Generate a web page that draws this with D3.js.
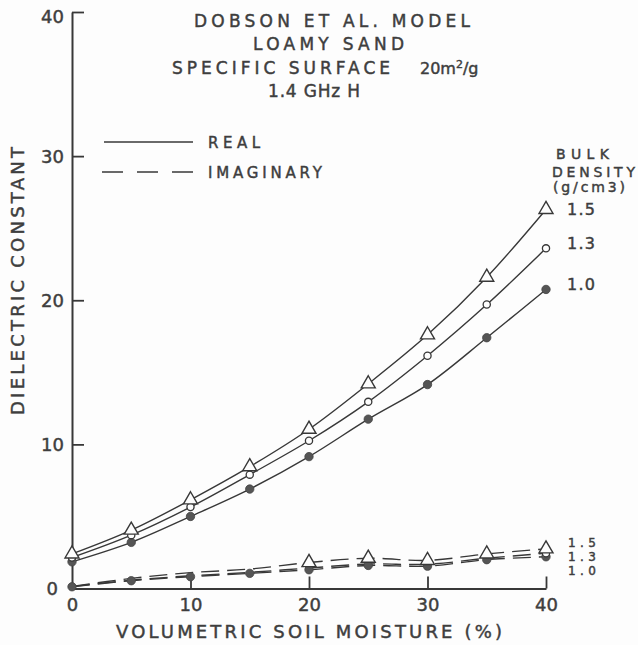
<!DOCTYPE html>
<html>
<head>
<meta charset="utf-8">
<script src="https://cdn.jsdelivr.net/npm/d3@7"></script>
<style>
  html, body { margin: 0; padding: 0; background: #fdfdfd; }
  svg { display: block; }
  text { font-family: "DejaVu Sans", "Liberation Sans", Arial, sans-serif; fill: #3e3e3e; }
</style>
</head>
<body>
<svg id="chart" width="638" height="645"></svg>
<script>
// Soil moisture (%) sampled every 5 %
const moisture = [0, 5, 10, 15, 20, 25, 30, 35, 40];

// Bulk density classes (g/cm3)
const densities = ["1.5", "1.3", "1.0"];

// Real part of the dielectric constant, per bulk density
const real15 = [2.4, 4.05, 6.15, 8.45, 11.05, 14.2, 17.6, 21.6, 26.3];
const real13 = [2.15, 3.7, 5.65, 7.9, 10.25, 12.95, 16.15, 19.7, 23.6];
const real10 = [1.85, 3.2, 5.0, 6.9, 9.15, 11.75, 14.15, 17.4, 20.75];

// Imaginary part of the dielectric constant, per bulk density
const imag15 = [0.15, 0.7, 1.1, 1.35, 1.8, 2.1, 1.95, 2.4, 2.75];
const imag13 = [0.13, 0.58, 0.88, 1.12, 1.42, 1.7, 1.68, 2.1, 2.45];
const imag10 = [0.12, 0.54, 0.82, 1.05, 1.3, 1.6, 1.55, 2.0, 2.2];

// Points where the imaginary-part markers are plotted
const imagMarks15 = [20, 25, 30, 35, 40];
const imagMarks13 = [40];
const imagMarks10 = [0, 5, 10, 15, 20, 25, 30, 35, 40];

const xTicks = [0, 10, 20, 30, 40];
const yTicks = [0, 10, 20, 30, 40];

const titleLines = ["DOBSON ET AL. MODEL", "LOAMY SAND", "SPECIFIC SURFACE", "1.4 GHz H"];
const xTitle = "VOLUMETRIC SOIL MOISTURE (%)";
const yTitle = "DIELECTRIC CONSTANT";
const legendLabels = ["REAL", "IMAGINARY"];
const densityTitle = ["BULK", "DENSITY", "(g/cm3)"];

const ink = "#383838";
const txt = "#3e3e3e";
const svg = d3.select("#chart");

const x = d3.scaleLinear().domain([0, 40]).range([72, 546]);
const y = d3.scaleLinear().domain([0, 40]).range([588.5, 12]);

function heavy(sel) {
  return sel.attr("stroke", txt).attr("stroke-width", 0.45);
}

// ---- axes ----
const yAxis = d3.axisLeft(y).tickValues(yTicks).tickSizeInner(-12).tickSizeOuter(0).tickPadding(8);
const gy = svg.append("g").attr("transform", `translate(${x(0)},0)`).call(yAxis);
const xAxis = d3.axisBottom(x).tickValues(xTicks).tickSizeInner(-12).tickSizeOuter(0).tickPadding(10);
const gx = svg.append("g").attr("transform", `translate(0,${y(0)})`).call(xAxis);

[gx, gy].forEach(g => {
  g.attr("font-family", null).attr("font-size", null);
  g.select(".domain").attr("stroke", ink).attr("stroke-width", 2);
  g.selectAll(".tick line").attr("stroke", ink).attr("stroke-width", 1.8);
  heavy(g.selectAll(".tick text").attr("fill", txt).style("font-size", "18px"));
});
gy.selectAll(".tick line").filter(d => d === 0).remove();
gx.selectAll(".tick line").filter(d => d === 0).remove();
gy.selectAll(".tick text").attr("dy", d => d === 40 ? "0.6em" : "0.36em");
gy.selectAll(".tick text").filter(d => d === 0).attr("x", -14);

// ---- curves ----
const line = d3.line()
  .x((d, i) => x(moisture[i]))
  .y(d => y(d))
  .curve(d3.curveCatmullRom.alpha(0.5));

const realSeries = [real15, real13, real10];
const imagSeries = [imag15, imag13, imag10];

svg.append("g").selectAll("path").data(realSeries).join("path")
  .attr("d", line).attr("fill", "none").attr("stroke", ink).attr("stroke-width", 1.4);

svg.append("g").selectAll("path").data(imagSeries).join("path")
  .attr("d", line).attr("fill", "none").attr("stroke", ink).attr("stroke-width", 1.4)
  .attr("stroke-dasharray", "18,8");

// ---- markers ----
const tri = d3.symbol().type(d3.symbolTriangle).size(85);

function drawMarkers(values, pts, kind) {
  const data = pts.map(m => ({ m, v: values[moisture.indexOf(m)] }));
  const g = svg.append("g");
  if (kind === "tri") {
    g.selectAll("path").data(data).join("path")
      .attr("d", tri)
      .attr("transform", d => `translate(${x(d.m)},${y(d.v)})`)
      .attr("fill", "#fdfdfd").attr("stroke", ink).attr("stroke-width", 1.4);
  } else if (kind === "open") {
    g.selectAll("circle").data(data).join("circle")
      .attr("cx", d => x(d.m)).attr("cy", d => y(d.v)).attr("r", 3.6)
      .attr("fill", "#fdfdfd").attr("stroke", ink).attr("stroke-width", 1.3);
  } else {
    g.selectAll("circle").data(data).join("circle")
      .attr("cx", d => x(d.m)).attr("cy", d => y(d.v)).attr("r", 4.2)
      .attr("fill", "#555").attr("stroke", "#444").attr("stroke-width", 0.8);
  }
}

drawMarkers(real10, moisture, "fill");
drawMarkers(real13, moisture, "open");
drawMarkers(real15, moisture, "tri");
drawMarkers(imag10, imagMarks10, "fill");
drawMarkers(imag13, imagMarks13, "open");
drawMarkers(imag15, imagMarks15, "tri");

// ---- title block ----
const tSpec = [
  { x: 194, y: 27, len: 276 },
  { x: 253, y: 50, len: 151 },
  { x: 172, y: 74, len: 218 },
  { x: 268, y: 97, len: 92 }
];
titleLines.forEach((t, i) => {
  heavy(svg.append("text")
    .attr("x", tSpec[i].x).attr("y", tSpec[i].y)
    .attr("textLength", tSpec[i].len).attr("lengthAdjust", "spacing")
    .style("font-size", "17px")
    .text(t));
});
const surf = heavy(svg.append("text").attr("x", 420).attr("y", 74)
  .style("font-size", "16px"));
surf.append("tspan").text("20m");
surf.append("tspan").attr("dy", -6).style("font-size", "11px").text("2");
surf.append("tspan").attr("dy", 6).text("/g");

// ---- legend ----
svg.append("line").attr("x1", 104).attr("x2", 193).attr("y1", 142).attr("y2", 142)
  .attr("stroke", ink).attr("stroke-width", 1.5);
svg.append("line").attr("x1", 102).attr("x2", 193).attr("y1", 172).attr("y2", 172)
  .attr("stroke", ink).attr("stroke-width", 1.5).attr("stroke-dasharray", "21,14");
[{ y: 148, len: 52 }, { y: 178, len: 114 }].forEach((s, i) => {
  heavy(svg.append("text").attr("x", 208).attr("y", s.y)
    .attr("textLength", s.len).attr("lengthAdjust", "spacing")
    .style("font-size", "15px")
    .text(legendLabels[i]));
});

// ---- density key ----
const dSpec = [
  { x: 556, y: 159, len: 53 },
  { x: 552, y: 177, len: 83 },
  { x: 553, y: 192, len: 72 }
];
densityTitle.forEach((t, i) => {
  heavy(svg.append("text").attr("x", dSpec[i].x).attr("y", dSpec[i].y)
    .attr("textLength", dSpec[i].len).attr("lengthAdjust", "spacing")
    .style("font-size", "14px")
    .text(t));
});
const realLabelY = [215, 249, 290];
densities.forEach((d, i) => {
  heavy(svg.append("text").attr("x", 567).attr("y", realLabelY[i])
    .attr("textLength", 28).attr("lengthAdjust", "spacing")
    .style("font-size", "16px")
    .text(d));
});
const imagLabelY = [547, 561, 575];
densities.forEach((d, i) => {
  heavy(svg.append("text").attr("x", 568).attr("y", imagLabelY[i])
    .attr("textLength", 28).attr("lengthAdjust", "spacing")
    .style("font-size", "12px")
    .text(d));
});

// ---- axis titles ----
heavy(svg.append("text").attr("x", 116).attr("y", 638)
  .attr("textLength", 386).attr("lengthAdjust", "spacing")
  .style("font-size", "18px")
  .text(xTitle));
heavy(svg.append("text")
  .attr("transform", "translate(24,415) rotate(-90)")
  .attr("x", 0).attr("y", 0)
  .attr("textLength", 268).attr("lengthAdjust", "spacing")
  .style("font-size", "18px")
  .text(yTitle));
</script>
</body>
</html>
